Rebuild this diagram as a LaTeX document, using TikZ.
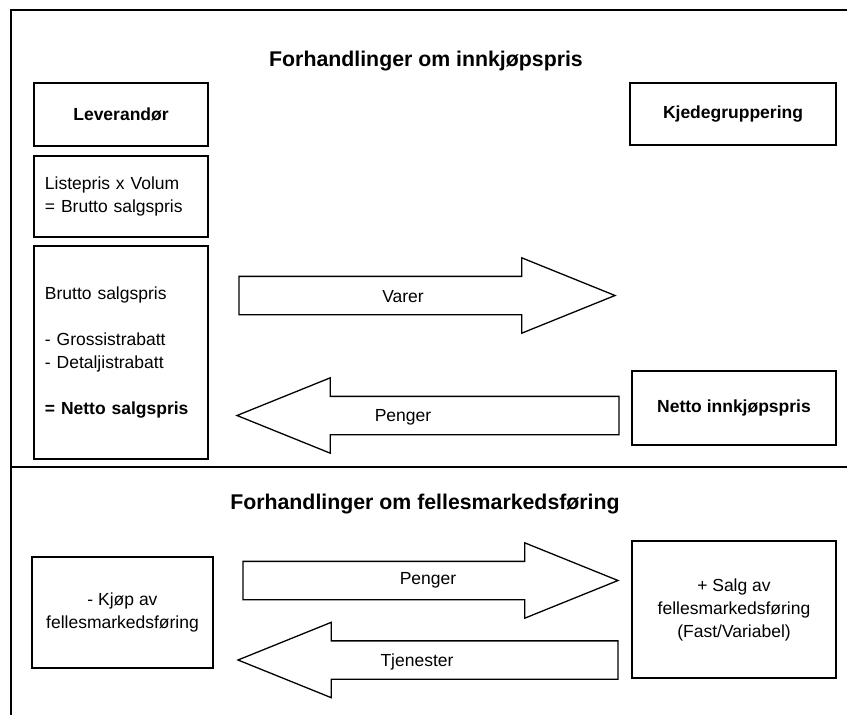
\documentclass[tikz,border=0pt]{standalone}
\usepackage{fontspec}
\setmainfont{Liberation Sans}
\usetikzlibrary{shapes.arrows}

\begin{document}
\begin{tikzpicture}[x=1pt,y=-1pt]

\tikzstyle{cell}=[rectangle,draw,line width=1.3pt,align=center,inner sep=0pt,font=\fontsize{17.5}{23}\selectfont]
\tikzstyle{lcell}=[cell,align=left,text width=152pt]
\tikzstyle{heading}=[font=\bfseries\fontsize{21.3}{26}\selectfont]
\tikzstyle{bigarrow}=[single arrow,draw,line width=1.3pt,single arrow head extend=18.5pt,single arrow tip angle=44,inner xsep=0pt,inner ysep=18.5pt,outer sep=0pt,anchor=tail]
\tikzstyle{lab}=[font=\fontsize{17.5}{23}\selectfont]

\useasboundingbox (0,0) rectangle (847,715);

% frame
\draw[line width=1.3pt] (847,10) -- (11,10) -- (11,715);
\draw[line width=1.3pt] (11,467) -- (847,467);

\node[heading] (T1) at (426,61)  {Forhandlinger om innkjøpspris} ;
\node[heading] (T2) at (425,504) {Forhandlinger om fellesmarkedsføring} ;

\node[cell,minimum width=174pt,minimum height=63pt] (lev)   at (121,114.5) {\bfseries Leverandør} ;
\node[cell,minimum width=206pt,minimum height=62pt] (kjede) at (733,114)   {\bfseries Kjedegruppering} ;
\node[lcell,minimum height=81pt,inner xsep=11pt]    (liste) at (121,196.5) {Listepris x Volum\\= Brutto salgspris} ;
\node[lcell,minimum height=213pt,inner xsep=11pt]   (brutto) at (121,352.5) {Brutto salgspris\\[23pt]- Grossistrabatt\\- Detaljistrabatt\\[23pt]\bfseries = Netto salgspris} ;
\node[cell,minimum width=204pt,minimum height=74pt] (netto) at (734,408)   {\bfseries Netto innkjøpspris} ;

\node[cell,minimum width=181pt,minimum height=111pt] (kjop) at (122.5,612.5) {- Kjøp av\\fellesmarkedsføring} ;
\node[cell,minimum width=204pt,minimum height=137pt] (salg) at (734,609.5)   {+ Salg av\\fellesmarkedsføring\\(Fast/Variabel)} ;

\node[bigarrow,minimum height=376pt] (a1) at (239,295.5) {} ;
\node[bigarrow,minimum height=382pt,shape border rotate=180] (a2) at (619,415.5) {} ;
\node[bigarrow,minimum height=375pt] (a3) at (243,580.5) {} ;
\node[bigarrow,minimum height=380pt,shape border rotate=180] (a4) at (618,660) {} ;

\node[lab] (varer) at (403,297) {Varer} ;
\node[lab] (p1)    at (403,417) {Penger} ;
\node[lab] (p2)    at (428,580) {Penger} ;
\node[lab] (tj)    at (417,662) {Tjenester} ;

\end{tikzpicture}
\end{document}
